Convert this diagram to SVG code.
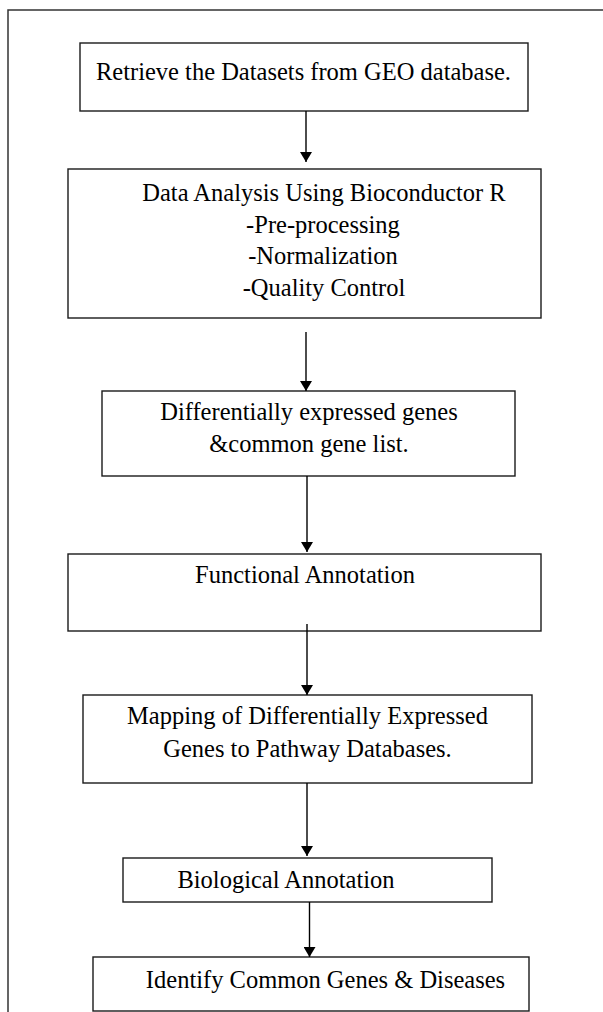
<svg xmlns="http://www.w3.org/2000/svg" width="603" height="1012" viewBox="0 0 603 1012">
<style>
.box{fill:#fff;stroke:#1a1a1a;stroke-width:1.4}
.t{font-family:"Liberation Serif","Times New Roman",serif;font-size:24.5px;fill:#000;text-anchor:middle}
.c{stroke:#000;stroke-width:1.4;fill:none}
</style>
<defs>
<marker id="ah" viewBox="0 0 10 12" refX="10" refY="6" markerWidth="10" markerHeight="12" markerUnits="userSpaceOnUse" orient="auto">
<path d="M0,0 L10,6 L0,12 Z" fill="#000"/>
</marker>
</defs>
<rect width="603" height="1012" fill="#fff"/>
<rect id="frame" x="8" y="10" width="700" height="1100" fill="none" stroke="#333" stroke-width="1.5"/>
<g id="n1"><rect class="box" x="80" y="43" width="448" height="68"/><text class="t" x="303.5" y="80">Retrieve the Datasets from GEO database.</text></g>
<g id="n2"><rect class="box" x="68" y="169" width="473" height="149"/>
<text class="t" x="324" y="201">Data Analysis Using Bioconductor R</text>
<text class="t" x="323" y="233">-Pre-processing</text>
<text class="t" x="323" y="264">-Normalization</text>
<text class="t" x="324" y="296">-Quality Control</text></g>
<g id="n3"><rect class="box" x="102" y="391" width="413" height="85"/>
<text class="t" x="309" y="420">Differentially expressed genes</text>
<text class="t" x="309" y="452">&amp;common gene list.</text></g>
<g id="n4"><rect class="box" x="68" y="554" width="473" height="77"/>
<text class="t" x="305" y="583">Functional Annotation</text></g>
<g id="n5"><rect class="box" x="83" y="695" width="449" height="88"/>
<text class="t" x="307.5" y="724">Mapping of Differentially Expressed</text>
<text class="t" x="307.5" y="757">Genes to Pathway Databases.</text></g>
<g id="n6"><rect class="box" x="123" y="858" width="369" height="44"/>
<text class="t" x="286" y="888">Biological Annotation</text></g>
<g id="n7"><rect class="box" x="93" y="957" width="436" height="54"/>
<text class="t" x="325.5" y="988">Identify Common Genes &amp; Diseases</text></g>
<g id="connectors">
<line class="c" x1="306" y1="111" x2="306" y2="162" marker-end="url(#ah)"/>
<line class="c" x1="306" y1="332" x2="306" y2="391" marker-end="url(#ah)"/>
<line class="c" x1="307" y1="476" x2="307" y2="552" marker-end="url(#ah)"/>
<line class="c" x1="307" y1="624" x2="307" y2="695" marker-end="url(#ah)"/>
<line class="c" x1="307" y1="783" x2="307" y2="856" marker-end="url(#ah)"/>
<line class="c" x1="309.5" y1="902" x2="309.5" y2="957" marker-end="url(#ah)"/>
</g>
</svg>
